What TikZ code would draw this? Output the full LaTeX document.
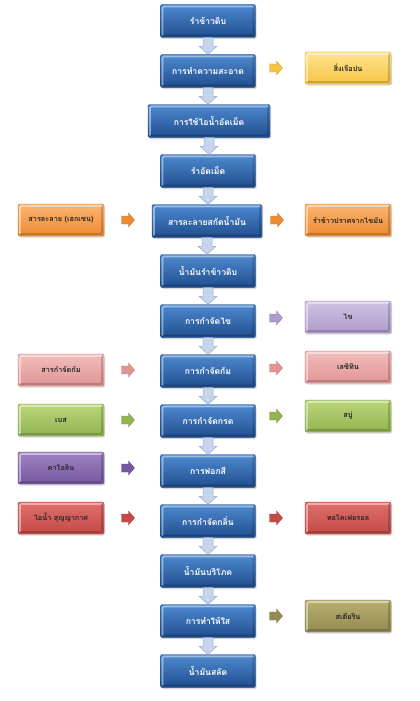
\documentclass[tikz,border=0pt]{standalone}
\usepackage{fontspec}
\newfontfamily\thai[Script=Thai]{Loma}
\usetikzlibrary{shadows,calc}
\definecolor{mtop}{HTML}{4F89D0}
\definecolor{mbot}{HTML}{1F4E8E}
\definecolor{mline}{HTML}{1A3F70}
\definecolor{darrfill}{HTML}{C6D5EA}
\definecolor{darrline}{HTML}{93AED4}
\definecolor{yelA}{HTML}{FFE48E}\definecolor{yelB}{HTML}{F6C444}\definecolor{yelL}{HTML}{C9A23A}
\definecolor{oraA}{HTML}{FCB572}\definecolor{oraB}{HTML}{EE8A32}\definecolor{oraL}{HTML}{C46E25}
\definecolor{lavA}{HTML}{D0C3E3}\definecolor{lavB}{HTML}{AE9BCB}\definecolor{lavL}{HTML}{8D7BA8}
\definecolor{pinA}{HTML}{F2BDBC}\definecolor{pinB}{HTML}{E09594}\definecolor{pinL}{HTML}{B77170}
\definecolor{grnA}{HTML}{BAD67A}\definecolor{grnB}{HTML}{93B451}\definecolor{grnL}{HTML}{728D3C}
\definecolor{purA}{HTML}{9F84C2}\definecolor{purB}{HTML}{7558A0}\definecolor{purL}{HTML}{5B4280}
\definecolor{redA}{HTML}{E06F6C}\definecolor{redB}{HTML}{C24A47}\definecolor{redL}{HTML}{963432}
\definecolor{oliA}{HTML}{B8AF72}\definecolor{oliB}{HTML}{958B52}\definecolor{oliL}{HTML}{73693A}
\tikzset{
  bevel/.style={path picture={
    \draw[white,opacity=0.45,line width=1.6pt]
      ([xshift=2pt,yshift=2pt]path picture bounding box.south west) |-
      ([xshift=-2pt,yshift=-2pt]path picture bounding box.north east);
    \draw[black,opacity=0.18,line width=1.6pt]
      ([xshift=2pt,yshift=2pt]path picture bounding box.south west) -|
      ([xshift=-2pt,yshift=-2pt]path picture bounding box.north east);}},
  mainbox/.style={rectangle, rounded corners=1.5pt, minimum width=95pt, minimum height=33pt,
    top color=mtop, bottom color=mbot, draw=mline, line width=0.4pt, text=white,
    font=\thai\bfseries\fontsize{8.6}{10}\selectfont, bevel,
    drop shadow={opacity=0.3,shadow xshift=1pt,shadow yshift=-1.5pt}},
  sidebox/.style n args={3}{rectangle, rounded corners=1.5pt, minimum width=86pt, minimum height=32pt,
    top color=#1, bottom color=#2, draw=#3, line width=0.4pt, text=black!85,
    font=\thai\bfseries\fontsize{7.3}{8.5}\selectfont, bevel,
    drop shadow={opacity=0.3,shadow xshift=1pt,shadow yshift=-1.5pt}},
  downarrow/.style={fill=darrfill, draw=darrline, line width=0.5pt}
}
\newcommand\downarr[2]{%
  \path[downarrow] let \p1=(#1.south), \p2=(#2.north) in
    (\x1-5pt,\y1) -- (\x1+5pt,\y1) -- (\x1+5pt,\y2+8pt) -- (\x1+9pt,\y2+8pt)
    -- (\x1,\y2) -- (\x1-9pt,\y2+8pt) -- (\x1-5pt,\y2+8pt) -- cycle;}
% right-pointing block arrow centred on a named coordinate
\newcommand\sidearr[2]{%
  \path[fill=#2, draw=#2!80!black, line width=0.3pt] let \p1=(#1) in
    (\x1-6.5pt,\y1+4pt) -- (\x1+0.5pt,\y1+4pt) -- (\x1+0.5pt,\y1+7pt) -- (\x1+6.5pt,\y1)
    -- (\x1+0.5pt,\y1-7pt) -- (\x1+0.5pt,\y1-4pt) -- (\x1-6.5pt,\y1-4pt) -- cycle;}
\begin{document}
\begin{tikzpicture}[x=1pt,y=-1pt]
\useasboundingbox (0,0) rectangle (420,701);
% main column
\node[mainbox] (m1) at (208,21) {รำข้าวดิบ};
\node[mainbox] (m2) at (208,71) {การทำความสะอาด};
\node[mainbox,minimum width=122pt] (m3) at (209,121) {การใช้ไอน้ำอัดเม็ด};
\node[mainbox] (m4) at (208,171) {รำอัดเม็ด};
\node[mainbox,minimum width=110pt] (m5) at (207,221) {สารละลายสกัดน้ำมัน};
\node[mainbox] (m6) at (208,271) {น้ำมันรำข้าวดิบ};
\node[mainbox] (m7) at (208,321) {การกำจัดไข};
\node[mainbox] (m8) at (208,371) {การกำจัดกัม};
\node[mainbox] (m9) at (208,421) {การกำจัดกรด};
\node[mainbox] (m10) at (208,471) {การฟอกสี};
\node[mainbox] (m11) at (208,521) {การกำจัดกลิ่น};
\node[mainbox] (m12) at (208,571) {น้ำมันบริโภค};
\node[mainbox] (m13) at (208,621) {การทำให้ใส};
\node[mainbox] (m14) at (208,671) {น้ำมันสลัด};
\foreach \a/\b in {m1/m2,m2/m3,m3/m4,m4/m5,m5/m6,m6/m7,m7/m8,m8/m9,m9/m10,m10/m11,m11/m12,m12/m13,m13/m14}
  {\downarr{\a}{\b}}
% left inputs
\node[sidebox={oraA}{oraB}{oraL}] (l5) at (61,220) {สารละลาย (เฮกเซน)};
\node[sidebox={pinA}{pinB}{pinL}] (l8) at (61,370) {สารกำจัดกัม};
\node[sidebox={grnA}{grnB}{grnL}] (l9) at (61,420) {เบส};
\node[sidebox={purA}{purB}{purL}] (l10) at (61,468) {คาโอลิน};
\node[sidebox={redA}{redB}{redL}] (l11) at (61,518) {ไอน้ำ สุญญากาศ};
\coordinate (la5) at (128,220);  \sidearr{la5}{oraB}
\coordinate (la8) at (128,370);  \sidearr{la8}{pinB}
\coordinate (la9) at (128,420);  \sidearr{la9}{grnB}
\coordinate (la10) at (128,468); \sidearr{la10}{purB}
\coordinate (la11) at (128,518); \sidearr{la11}{redB}
% right outputs
\node[sidebox={yelA}{yelB}{yelL}] (r2) at (348,68) {สิ่งเจือปน};
\node[sidebox={oraA}{oraB}{oraL}] (r5) at (348,220) {รำข้าวปราศจากไขมัน};
\node[sidebox={lavA}{lavB}{lavL}] (r7) at (348,317) {ไข};
\node[sidebox={pinA}{pinB}{pinL}] (r8) at (348,367) {เลซิทิน};
\node[sidebox={grnA}{grnB}{grnL}] (r9) at (348,416) {สบู่};
\node[sidebox={redA}{redB}{redL}] (r11) at (348,518) {ทอโคเฟอรอล};
\node[sidebox={oliA}{oliB}{oliL}] (r13) at (348,616) {สเตียริน};
\coordinate (ra2) at (276,68);   \sidearr{ra2}{yelB}
\coordinate (ra5) at (277,220);  \sidearr{ra5}{oraB}
\coordinate (ra7) at (276,318);  \sidearr{ra7}{lavB}
\coordinate (ra8) at (276,368);  \sidearr{ra8}{pinB}
\coordinate (ra9) at (276,416);  \sidearr{ra9}{grnB}
\coordinate (ra11) at (276,518); \sidearr{ra11}{redB}
\coordinate (ra13) at (276,616); \sidearr{ra13}{oliB}
\end{tikzpicture}
\end{document}
